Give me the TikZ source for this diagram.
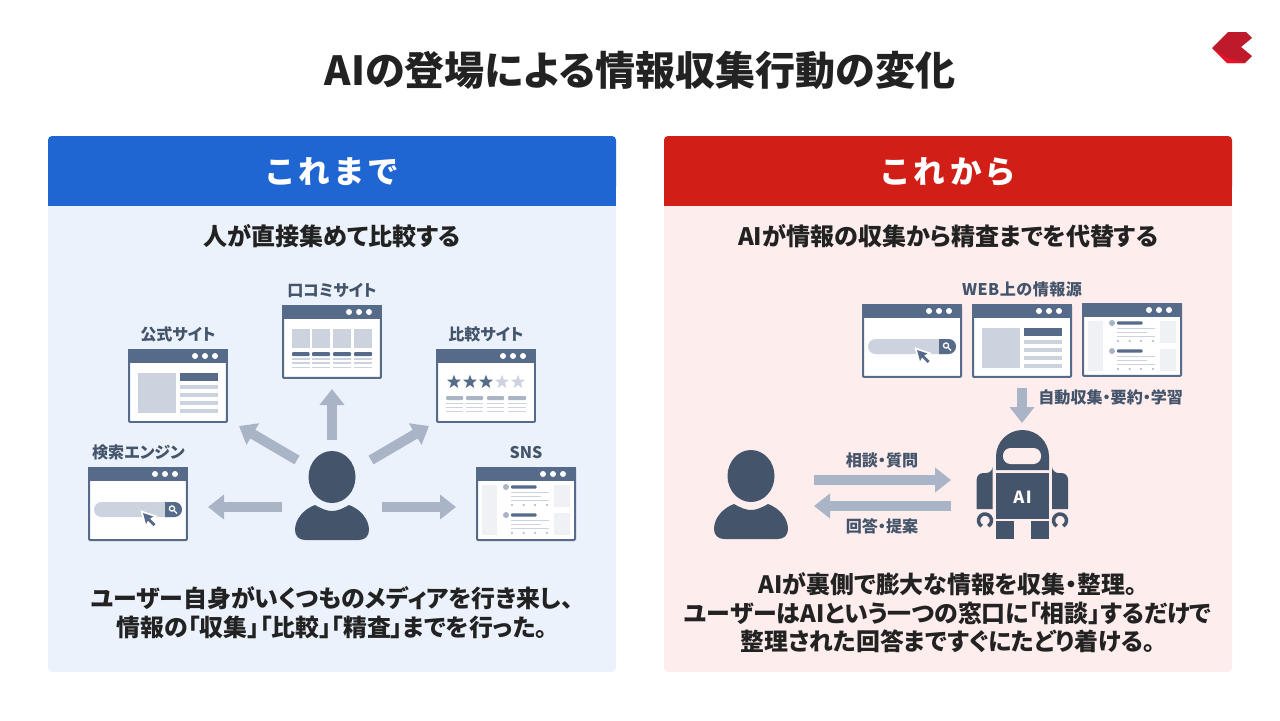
\documentclass[tikz,border=0pt]{standalone}
\usepackage{fontspec}
\setmainfont{Noto Sans CJK JP}[RawFeature=+palt]
\usetikzlibrary{arrows.meta,shapes.geometric}
\definecolor{inkDark}{HTML}{222222}
\definecolor{slateText}{HTML}{44546A}
\definecolor{winHead}{HTML}{566A8A}
\definecolor{lineGray}{HTML}{CCD3DE}
\definecolor{midGray}{HTML}{A9B4C6}
\definecolor{paleGray}{HTML}{F0F1F5}
\definecolor{blueHead}{HTML}{2066D3}
\definecolor{blueBody}{HTML}{EBF2FC}
\definecolor{redHead}{HTML}{D11F18}
\definecolor{redBody}{HTML}{FDEDED}
\definecolor{logoDark}{HTML}{BE1A2C}
\definecolor{logoBright}{HTML}{EA1126}

% browser window, top left corner at #2,#3
\newcommand{\browserWin}[3]{
  \node[browserFrame] (#1) at (#2+50,#3+37) {};
  \fill[winHead] (#2,#3) rectangle (#2+100,#3+14);
  \foreach \d in {67,77,87}
    \fill[white] (#2+\d,#3+7) circle (3);
}
% user icon, head centre at #1,#2
\newcommand{\userIcon}[2]{
  \begin{scope}[shift={(#1,#2)}]
    \fill[slateText] (0,0) ellipse (23.5 and 26);
    \fill[slateText] (-17,28) .. controls (-10,32) and (-5,34) .. (0,34) .. controls (5,34) and (10,32) .. (17,28)
      .. controls (28,32) and (37,42) .. (37,53) .. controls (37,59) and (33,63) .. (27,63) -- (-27,63)
      .. controls (-33,63) and (-37,59) .. (-37,53) .. controls (-37,42) and (-28,32) .. (-17,28) -- cycle;
  \end{scope}
}
% page contents of the windows
\newcommand{\articlePage}[2]{
  \begin{scope}[shift={(#1,#2)}]
    \fill[lineGray] (10,24) rectangle (48,64);
    \fill[winHead] (52,24) rectangle (90,32);
    \foreach \y in {36,44,52,60}
      \fill[lineGray] (52,\y) rectangle (90,\y+4);
  \end{scope}
}
\newcommand{\searchPage}[2]{
  \begin{scope}[shift={(#1,#2)}]
    \fill[lineGray] (13.5,35) -- (86.5,35) arc (270:450:7.5) -- (13.5,50) arc (90:270:7.5) -- cycle;
    \fill[winHead] (77,35) -- (86.5,35) arc (270:450:7.5) -- (77,50) -- cycle;
    \draw[white,line width=0.025cm] (84,41.5) circle (2.6) (86,43.5) -- (89,46.5);
    \fill[winHead,preaction={draw=white,line width=0.07cm}] (55,46) -- (65.5,49.5) -- (62,51.5) -- (67.5,57) -- (65.5,59) -- (60,53.5) -- (58,57) -- cycle;
  \end{scope}
}
\newcommand{\snsPage}[2]{
  \begin{scope}[shift={(#1,#2)}]
    \fill[paleGray] (6,18) rectangle (21,68);
    \fill[paleGray] (78,18) rectangle (94,39.7);
    \fill[paleGray] (78,46) rectangle (94,68);
    \foreach \y in {20,48}{
      \fill[midGray] (30,\y) circle (3);
      \fill[winHead,rounded corners=0.02cm] (35,\y-1.7) rectangle (60.5,\y+1.7);
      \fill[lineGray] (35,\y+5.2) rectangle (73,\y+6.4);
      \fill[lineGray] (35,\y+9.2) rectangle (65,\y+10.4);
      \fill[lineGray] (35,\y+13.2) rectangle (73,\y+14.4);
      \foreach \d in {36,47.7,59,71}
        \fill[midGray] (\d,\y+18) circle (1.1);
    }
  \end{scope}
}

\begin{document}
\begin{tikzpicture}[x=0.02cm,y=-0.02cm]
\tikzstyle{browserFrame}=[rectangle,draw=winHead,fill=white,line width=0.04cm,rounded corners=0.02cm,minimum width=1.96cm,minimum height=1.44cm,inner sep=0pt]
\tikzstyle{flowArrow}=[midGray,line width=0.2cm,-{Triangle[width=0.48cm,length=0.32cm]}]
\tikzstyle{iconLabel}=[text=slateText,font=\fontsize{9.15}{11}\selectfont\bfseries,inner sep=0pt]
\tikzstyle{panelTitle}=[text=white,font=\fontsize{18}{22}\selectfont\bfseries\addfontfeature{LetterSpace=16},inner sep=0pt]
\tikzstyle{panelSub}=[text=inkDark,font=\fontsize{13.7}{17}\selectfont\bfseries,inner sep=0pt]
\tikzstyle{panelNote}=[text=inkDark,align=center,font=\fontsize{13.6}{16.3}\selectfont\bfseries,inner sep=0pt]
\useasboundingbox (0,0) rectangle (1280,720);
\fill[white] (0,0) rectangle (1280,720);

%title
\node[text=inkDark,font=\fontsize{22.8}{27}\selectfont\bfseries,inner sep=0pt] (mainTitle) at (640,70) {AIの登場による情報収集行動の変化};

%logo
\fill[logoDark] (1212,48) -- (1228,32) -- (1246,32) -- (1252,38) -- (1241,47) -- (1252,56) -- (1245,63) -- (1227,63) -- cycle;
\fill[logoBright] (1212,48) -- (1227,63) -- (1245,63) -- (1228,58) -- cycle;

%left panel
\fill[blueBody,rounded corners=0.08cm] (48,136) rectangle (616,672);
\fill[blueHead,rounded corners=0.08cm] (48,136) rectangle (616,190);
\fill[blueHead] (48,170) rectangle (616,206);
\node[panelTitle] (beforeTitle) at (332,172) {これまで};
\node[panelSub] (beforeSub) at (332,236) {人が直接集めて比較する};

%right panel
\fill[redBody,rounded corners=0.08cm] (664,136) rectangle (1232,672);
\fill[redHead,rounded corners=0.08cm] (664,136) rectangle (1232,190);
\fill[redHead] (664,170) rectangle (1232,206);
\node[panelTitle] (afterTitle) at (948,172) {これから};
\node[panelSub] (afterSub) at (948,236) {AIが情報の収集から精査までを代替する};

% left windows
\browserWin{searchWin}{88}{467}
\searchPage{88}{467}
\browserWin{officialWin}{128}{349}
\articlePage{128}{349}
\browserWin{reviewWin}{282}{305}
\browserWin{compareWin}{436}{349}
\browserWin{snsWin}{476}{467}
\snsPage{476}{467}

%review page
\foreach \a/\b in {10/27.5,30/48,51/69,72/90}{
  \fill[lineGray] (282+\a,329) rectangle (282+\b,348);
  \fill[winHead,rounded corners=0.02cm] (282+\a,352) rectangle (282+\b,356);
  \foreach \y in {359,363,367.5}
    \fill[lineGray] (282+\a,\y-0.6) rectangle (282+\b,\y+0.6);
}

%compare page
\foreach \i/\x/\c in {1/454/winHead,2/470/winHead,3/486/winHead,4/502/lineGray,5/518/lineGray}
  \node[star,star points=5,star point ratio=2.4,fill=\c,minimum size=0.29cm,inner sep=0pt] (star\i) at (\x,382) {};
\foreach \a/\b in {10/27,30/47,51/68,72/90}{
  \fill[midGray,rounded corners=0.02cm] (436+\a,396) rectangle (436+\b,400);
  \foreach \y in {403.5,407.5,411.5}
    \fill[lineGray] (436+\a,\y-0.6) rectangle (436+\b,\y+0.6);
}

%left labels
\node[iconLabel] (searchLabel) at (138.5,452.5) {検索エンジン};
\node[iconLabel] (officialLabel) at (178,334.5) {公式サイト};
\node[iconLabel] (reviewLabel) at (332,290.5) {口コミサイト};
\node[iconLabel] (compareLabel) at (486,334.5) {比較サイト};
\node[iconLabel] (snsLabel) at (526,452.5) {SNS};

\userIcon{332}{477}

%left arrows
\coordinate (toSearchA) at (282,507);
\coordinate (toSearchB) at (208,507);
\coordinate (toOfficialA) at (297,460);
\coordinate (toOfficialB) at (239,426);
\coordinate (toReviewA) at (332,440);
\coordinate (toReviewB) at (332,389);
\coordinate (toCompareA) at (371,460);
\coordinate (toCompareB) at (429,426);
\coordinate (toSnsA) at (382,507);
\coordinate (toSnsB) at (456,507);
\draw[flowArrow] (toSearchA) -- (toSearchB);
\draw[flowArrow] (toOfficialA) -- (toOfficialB);
\draw[flowArrow] (toReviewA) -- (toReviewB);
\draw[flowArrow] (toCompareA) -- (toCompareB);
\draw[flowArrow] (toSnsA) -- (toSnsB);

\node[panelNote] (beforeNote) at (332,613) {ユーザー自身がいくつものメディアを行き来し、\\情報の「収集」「比較」「精査」までを行った。};

% right windows
\browserWin{webSearchWin}{862}{304}
\searchPage{862}{304}
\browserWin{webArticleWin}{972}{304}
\articlePage{972}{304}
\browserWin{webSnsWin}{1082}{303}
\snsPage{1082}{303}
\node[iconLabel,font=\fontsize{9.15}{11}\selectfont\bfseries\addfontfeature{LetterSpace=3}] (webLabel) at (1022,289.5) {WEB上の情報源};

\coordinate (collectA) at (1022,388);
\coordinate (collectB) at (1022,423);
\draw[flowArrow] (collectA) -- (collectB);
\node[iconLabel,anchor=west] (collectLabel) at (1038,397) {自動収集・要約・学習};

\userIcon{751}{476}

%robot
\fill[slateText] (996,470) -- (996,456.5) arc (180:360:26.5) -- (1049,470) -- cycle;
\fill[redBody,rounded corners=0.15cm] (1003,448) rectangle (1041,464);
\fill[slateText] (996,473) rectangle (1049,519);
\node[text=white,font=\fontsize{9.5}{11}\selectfont\bfseries\addfontfeature{LetterSpace=8},inner sep=0pt] (robotLabel) at (1022.5,497) {AI};
\fill[slateText] (992.7,473) -- (992.7,509) -- (976.7,509) [rounded corners=0.13cm] -- (976.7,473) -- (992.7,473) -- cycle;
\fill[slateText] (1052,473) -- (1052,509) -- (1068,509) [rounded corners=0.13cm] -- (1068,473) -- (1052,473) -- cycle;
\draw[slateText,line width=0.07cm] (985,520.5) ++(120:6.5) arc (120:420:6.5);
\draw[slateText,line width=0.07cm] (1060,520.5) ++(120:6.5) arc (120:420:6.5);
\fill[slateText] (996,521) rectangle (1013.7,539);
\fill[slateText] (1031,521) rectangle (1049,539);

%dialogue arrows
\coordinate (askA) at (814,480);
\coordinate (askB) at (951,480);
\coordinate (replyA) at (951,506);
\coordinate (replyB) at (814,506);
\draw[flowArrow] (askA) -- (askB);
\draw[flowArrow] (replyA) -- (replyB);
\node[iconLabel] (askLabel) at (882,460.5) {相談・質問};
\node[iconLabel] (replyLabel) at (882,526) {回答・提案};

\node[panelNote] (afterNote) at (948,613) {AIが裏側で膨大な情報を収集・整理。\\ユーザーはAIという一つの窓口に「相談」するだけで\\整理された回答まですぐにたどり着ける。};
\end{tikzpicture}
\end{document}
